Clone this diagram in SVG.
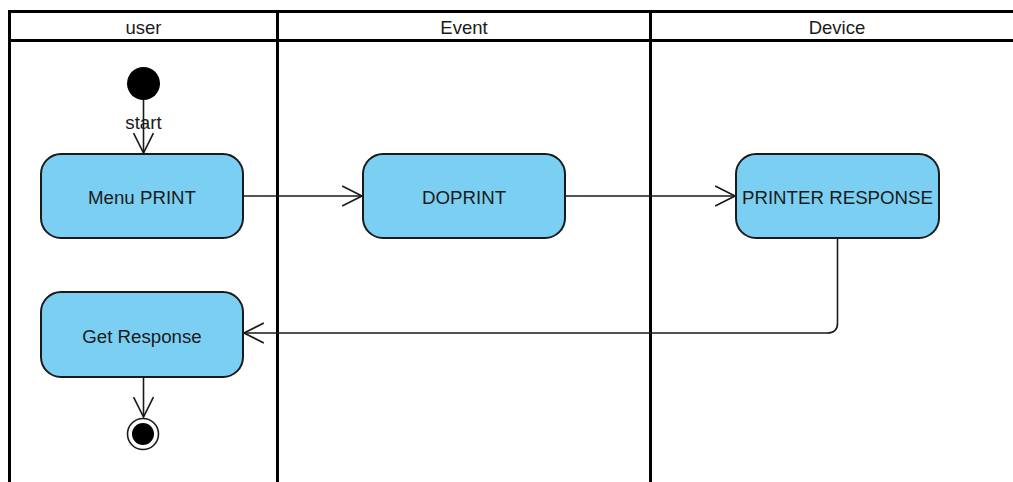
<svg xmlns="http://www.w3.org/2000/svg" width="1013" height="482" viewBox="0 0 1013 482">
<style>
.lane{fill:none;stroke:#000;stroke-width:3}
.hdr{font-family:"Liberation Sans",Arial,sans-serif;font-size:18.5px;fill:#1a1a1a;text-anchor:middle}
.act{fill:#7bcff3;stroke:#1a1a1a;stroke-width:2}
.lbl{font-family:"Liberation Sans",Arial,sans-serif;font-size:18.7px;fill:#1a1a1a;text-anchor:middle;dominant-baseline:central}
.conn{fill:none;stroke:#1a1a1a;stroke-width:1.6}
</style>
<defs>
<marker id="open" markerUnits="userSpaceOnUse" markerWidth="24" markerHeight="24" viewBox="-21 -11 23 22" refX="0" refY="0" orient="auto">
<path d="M-19,-9.5 L0,0 L-19,9.5" fill="none" stroke="#1a1a1a" stroke-width="1.6"/>
</marker>
</defs>
<rect width="1013" height="482" fill="#fff"/>
<g id="swimlanes">
<path class="lane" d="M9.5,482 V11.5 H1013 M9.5,40.5 H1013 M277.5,11.5 V482 M650.5,11.5 V482"/>
<text class="hdr" x="143.5" y="34">user</text>
<text class="hdr" x="464" y="34">Event</text>
<text class="hdr" x="837" y="34">Device</text>
</g>
<g id="connectors">
<path class="conn" d="M143.5,100 V153" marker-end="url(#open)"/>
<path class="conn" d="M243,196 H362" marker-end="url(#open)"/>
<path class="conn" d="M565,196 H735" marker-end="url(#open)"/>
<path class="conn" d="M837.5,238 V323 Q837.5,333 827.5,333 H244" marker-end="url(#open)"/>
<path class="conn" d="M143.5,377 V417" marker-end="url(#open)"/>
</g>
<g id="start">
<circle cx="143.5" cy="83.5" r="16.5" fill="#000"/>
<text class="lbl" x="143.5" y="122">start</text>
</g>
<g id="menu-print">
<rect class="act" x="41" y="154" width="202" height="84" rx="20"/>
<text class="lbl" x="142" y="197">Menu PRINT</text>
</g>
<g id="doprint">
<rect class="act" x="363" y="154" width="202" height="84" rx="20"/>
<text class="lbl" x="464" y="197">DOPRINT</text>
</g>
<g id="printer-response">
<rect class="act" x="736" y="154" width="203" height="84" rx="20"/>
<text class="lbl" x="837.5" y="197">PRINTER RESPONSE</text>
</g>
<g id="get-response">
<rect class="act" x="41" y="292" width="202" height="85" rx="20"/>
<text class="lbl" x="142" y="336">Get Response</text>
</g>
<g id="end">
<circle cx="143" cy="434" r="15.5" fill="#fff" stroke="#1a1a1a" stroke-width="1.6"/>
<circle cx="143" cy="434" r="11" fill="#000"/>
</g>
</svg>
